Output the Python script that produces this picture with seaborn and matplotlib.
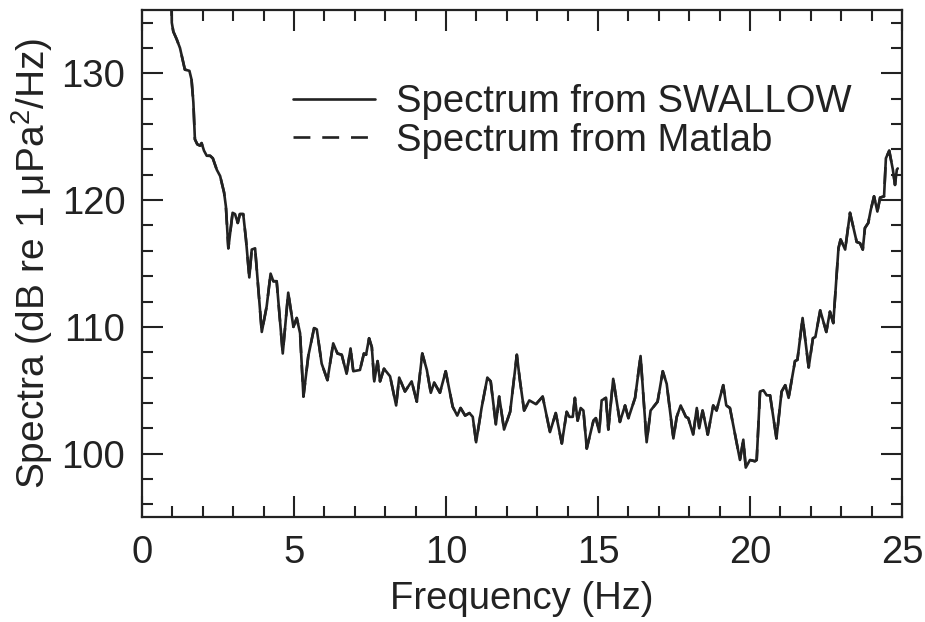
import matplotlib
matplotlib.use("Agg")
import matplotlib.pyplot as plt
import seaborn as sns
import pandas as pd
from matplotlib.ticker import MultipleLocator

freq_hz = [0.97, 0.98, 1.03, 1.14, 1.25, 1.41, 1.56, 1.63, 1.69, 1.74, 1.82, 1.91, 1.96,
           2.04, 2.13, 2.24, 2.33, 2.46, 2.57, 2.70, 2.76, 2.84, 2.98, 3.06, 3.15, 3.22,
           3.33, 3.42, 3.53, 3.61, 3.72, 3.94, 4.10, 4.23, 4.32, 4.43, 4.63, 4.81, 4.98,
           5.09, 5.20, 5.31, 5.47, 5.66, 5.75, 5.91, 6.10, 6.29, 6.43, 6.57, 6.73, 6.86,
           6.95, 7.17, 7.30, 7.37, 7.47, 7.56, 7.64, 7.75, 7.83, 7.96, 8.16, 8.36, 8.46,
           8.65, 8.87, 9.04, 9.22, 9.37, 9.50, 9.61, 9.80, 9.99, 10.22, 10.37, 10.48,
           10.63, 10.77, 10.88, 10.99, 11.17, 11.36, 11.47, 11.64, 11.75, 11.91, 12.11,
           12.33, 12.43, 12.57, 12.74, 12.96, 13.18, 13.42, 13.61, 13.81, 13.97, 14.06,
           14.17, 14.24, 14.33, 14.43, 14.52, 14.63, 14.85, 14.93, 15.04, 15.12, 15.26,
           15.34, 15.50, 15.72, 15.89, 16.00, 16.22, 16.40, 16.60, 16.73, 16.96, 17.13,
           17.26, 17.48, 17.59, 17.72, 17.89, 17.97, 18.13, 18.25, 18.33, 18.44, 18.61,
           18.79, 18.90, 19.12, 19.22, 19.34, 19.54, 19.67, 19.78, 19.86, 20.00, 20.16,
           20.22, 20.33, 20.44, 20.55, 20.66, 20.87, 21.04, 21.16, 21.27, 21.48, 21.56,
           21.73, 21.93, 22.07, 22.15, 22.31, 22.51, 22.63, 22.74, 22.91, 22.98, 23.13,
           23.29, 23.51, 23.62, 23.71, 23.78, 23.89, 23.97, 24.08, 24.19, 24.28, 24.41,
           24.47, 24.58, 24.70, 24.77, 24.83, 24.86]

swallow_db = [136.0, 134.0, 133.3, 132.7, 132.0, 130.3, 130.2, 129.5, 127.7, 124.8, 124.4,
              124.3, 124.5, 123.9, 123.5, 123.5, 123.3, 122.4, 121.9, 120.6, 119.5, 116.2,
              119.0, 118.9, 118.2, 118.9, 118.9, 116.9, 113.9, 116.1, 116.2, 109.6, 111.6,
              114.2, 113.6, 113.6, 107.9, 112.7, 110.0, 110.7, 109.5, 104.5, 107.7, 109.9,
              109.8, 107.1, 105.8, 108.7, 107.9, 107.8, 106.3, 108.3, 106.5, 106.6, 107.9,
              107.8, 109.1, 108.4, 105.7, 107.3, 105.7, 106.7, 106.1, 103.8, 106.0, 104.9,
              105.7, 104.1, 107.9, 106.6, 104.8, 105.6, 104.8, 106.5, 103.7, 103.0, 103.6,
              103.0, 103.2, 102.9, 100.9, 103.6, 106.0, 105.7, 102.3, 104.5, 101.9, 103.3,
              107.8, 105.8, 103.4, 104.2, 103.9, 104.5, 101.7, 103.2, 100.8, 103.3, 102.9,
              102.9, 104.4, 102.6, 103.6, 103.4, 100.4, 102.6, 102.8, 101.7, 104.2, 104.4,
              101.9, 105.9, 102.5, 103.8, 102.8, 104.4, 107.7, 100.9, 103.4, 104.1, 106.5,
              105.5, 101.2, 102.9, 103.8, 102.9, 102.8, 101.5, 103.6, 102.0, 103.4, 101.5,
              103.8, 103.4, 105.4, 103.8, 103.6, 101.1, 99.5, 101.1, 98.9, 99.5, 99.4,
              99.5, 104.9, 105.0, 104.6, 104.6, 101.2, 104.9, 105.4, 104.4, 107.3, 107.4,
              110.7, 106.8, 109.1, 109.2, 111.3, 109.6, 111.2, 110.3, 116.2, 116.9, 116.1,
              119.0, 116.7, 116.6, 116.1, 117.8, 118.2, 119.2, 120.3, 119.1, 120.2, 120.3,
              123.3, 123.9, 122.4, 121.2, 122.4, 122.5]

# The Matlab spectrum coincides with the SWALLOW spectrum
matlab_db = list(swallow_db)

x_ticks = [0, 5, 10, 15, 20, 25]
y_ticks = [100, 110, 120, 130]

sns.set_theme(style="ticks")
FONT = ["Liberation Sans", "DejaVu Sans"]
plt.rcParams["font.family"] = FONT
plt.rcParams["mathtext.fontset"] = "custom"
plt.rcParams["mathtext.rm"] = "Liberation Sans"
plt.rcParams["mathtext.it"] = "Liberation Sans:italic"

INK = "#222222"
FS = 27.5

fig = plt.figure(figsize=(9.25, 6.22), dpi=100)
fig.patch.set_facecolor("white")
ax = fig.add_axes([142 / 925, 1 - 517 / 622, 760 / 925, 507 / 622])
ax.set_facecolor("white")

df1 = pd.DataFrame({"f": freq_hz, "s": swallow_db})
df2 = pd.DataFrame({"f": freq_hz, "s": matlab_db})
sns.lineplot(data=df1, x="f", y="s", ax=ax, color=INK, lw=1.9, sort=False,
             label="Spectrum from SWALLOW")
sns.lineplot(data=df2, x="f", y="s", ax=ax, color=INK, lw=1.9, sort=False,
             linestyle=(0, (6.4, 4.5)), label="Spectrum from Matlab")

ax.set_xlim(0, 25)
ax.set_ylim(95, 135)
ax.set_xticks(x_ticks)
ax.set_yticks(y_ticks)
ax.xaxis.set_minor_locator(MultipleLocator(1))
ax.yaxis.set_minor_locator(MultipleLocator(2))
ax.tick_params(which="both", direction="in", top=True, right=True, color=INK, width=1.5)
ax.tick_params(which="major", length=15, labelsize=FS, labelcolor=INK)
ax.tick_params(axis="x", which="major", pad=13)
ax.tick_params(axis="y", which="major", pad=12)
ax.tick_params(which="minor", length=8)
for sp in ax.spines.values():
    sp.set_visible(True)
    sp.set_linewidth(1.6)
    sp.set_color(INK)

ax.set_xlabel("Frequency (Hz)", fontsize=FS, color=INK, labelpad=7)
ax.set_ylabel("Spectra (dB re 1 μPa$^{2}$/Hz)", fontsize=28, color=INK, labelpad=5)

leg = ax.legend(loc="upper left", bbox_to_anchor=(293 / 925, 1 - 84 / 622),
                bbox_transform=fig.transFigure, frameon=False, fontsize=FS,
                handlelength=2.15, handletextpad=0.55, labelspacing=0.07,
                borderpad=0, borderaxespad=0)
for t in leg.get_texts():
    t.set_color(INK)

fig.savefig("out.png", dpi=100, facecolor="white")
